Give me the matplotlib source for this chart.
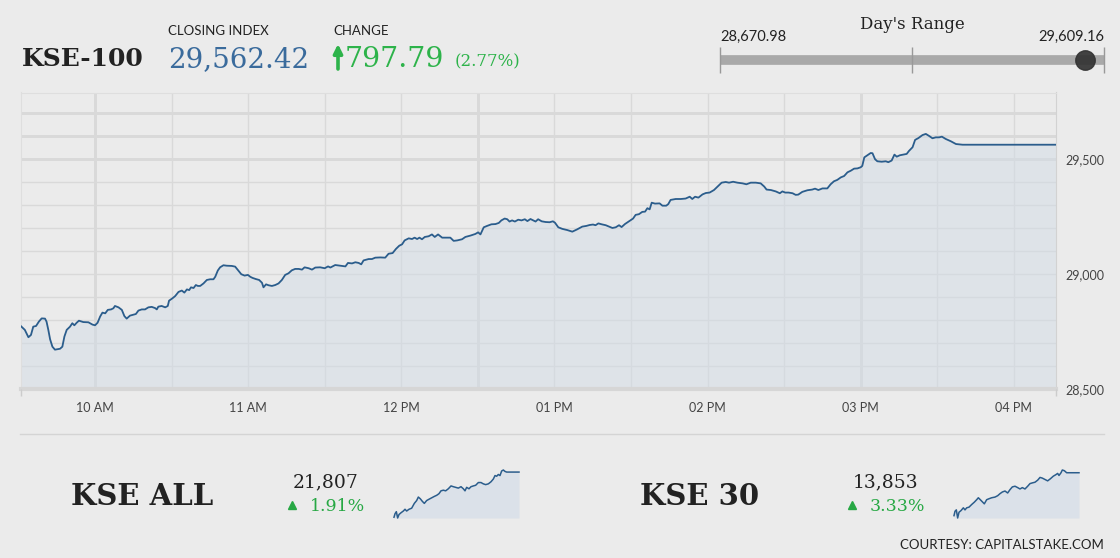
import datetime as dt
import matplotlib
matplotlib.use("Agg")
import matplotlib.pyplot as plt
import matplotlib.dates as mdates
import matplotlib.ticker as ticker

# ---- KSE-100 intraday (minutes after 09:30, index level) ----
mins_a = [0.8, 2.5, 3.9, 4.9, 5.8, 6.9, 8.0, 9.1, 10.4, 11.0, 11.7, 12.4, 13.3, 14.3, 16.3, 17.2, 18.0, 18.9,
          20.2, 21.1, 21.9, 22.8, 23.7, 25.4, 27.4, 29.0, 30.0, 31.0, 32.0, 32.9, 34.0, 35.0, 36.3, 37.2,
          37.8, 39.2, 40.5, 41.5, 42.4, 43.7, 45.0, 46.0, 47.0, 48.3, 49.6, 50.9, 52.2, 53.5, 54.2, 54.8,
          56.1, 57.5, 58.5, 59.0, 60.3, 61.4, 62.7, 64.0, 65.0, 66.0, 66.9, 67.6, 68.6, 69.5, 70.3, 71.2,
          72.5, 73.8, 75.1, 76.4, 77.1, 78.1, 79.0, 80.3, 81.6, 83.6, 84.9, 86.0, 87.3, 88.6, 89.9, 90.8,
          91.7, 93.0, 94.3, 95.4, 96.0, 97.0, 98.0, 99.3]
vals_a = [28775, 28757, 28725, 28735, 28771, 28774, 28793, 28807, 28806, 28793, 28757, 28716, 28684, 28671,
          28675, 28684, 28728, 28757, 28771, 28786, 28777, 28788, 28797, 28791, 28790, 28780, 28777, 28788,
          28815, 28832, 28829, 28844, 28846, 28851, 28861, 28855, 28844, 28817, 28806, 28819, 28823, 28826,
          28841, 28846, 28846, 28855, 28857, 28852, 28846, 28858, 28861, 28855, 28861, 28884, 28894, 28904,
          28922, 28928, 28919, 28933, 28930, 28942, 28939, 28952, 28948, 28948, 28959, 28974, 28977, 28977,
          28988, 29015, 29029, 29038, 29036, 29035, 29032, 29017, 28999, 28993, 28996, 28988, 28983, 28978,
          28974, 28962, 28942, 28955, 28951, 28948]
mins_b = [100.6, 101.9, 103.2, 104.5, 105.8, 107.1, 108.4, 109.8, 111.1, 112.1, 113.7, 115.0, 116.3, 118.2,
          120.0, 121.3, 122.2, 124.1, 126.1, 128.1, 129.1, 130.7, 132.0, 133.3, 134.3, 135.2, 137.2, 138.5,
          139.8, 141.8, 143.7, 145.0, 146.6, 147.9, 149.2, 150.3, 151.3, 152.9, 154.2, 155.2, 156.2, 157.1,
          158.1, 159.2, 160.7, 162.0, 163.1, 164.4, 166.0, 167.9, 169.2, 170.5, 171.9, 173.8, 175.1, 177.1,
          179.0, 180.1, 181.0, 182.3, 183.6, 185.3, 186.9, 188.2, 189.2, 190.5, 191.5, 192.4, 193.4, 194.5,
          195.8, 197.1, 198.4, 199.4, 200.6, 201.9]
vals_b = [28952, 28959, 28974, 28996, 29003, 29016, 29022, 29022, 29019, 29029, 29025, 29019, 29028, 29029,
          29025, 29033, 29028, 29039, 29036, 29033, 29048, 29046, 29051, 29048, 29042, 29059, 29065, 29065,
          29071, 29072, 29071, 29088, 29091, 29109, 29123, 29129, 29146, 29155, 29152, 29158, 29152, 29158,
          29151, 29161, 29164, 29172, 29161, 29172, 29158, 29158, 29158, 29144, 29146, 29151, 29161, 29167,
          29174, 29181, 29172, 29203, 29209, 29216, 29217, 29222, 29233, 29241, 29238, 29228, 29233, 29228,
          29236, 29233, 29238, 29230, 29239, 29232]
mins_c = [202.6, 203.6, 205.0, 206.5, 208.1, 209.4, 210.2, 211.5, 213.1, 215.0, 217.0, 218.9, 220.9, 222.5,
          223.8, 225.1, 226.1, 227.2, 228.5, 230.1, 231.4, 232.7, 234.0, 235.3, 236.3, 237.6, 239.2, 240.8,
          241.8, 243.1, 244.4, 245.5, 246.4, 247.3, 248.1, 249.4, 251.2, 252.3, 253.8, 254.6, 255.5, 257.5,
          259.5, 261.4, 263.0, 264.0, 265.1, 266.4, 268.0, 269.3, 270.8, 272.5, 274.2, 275.5, 277.1, 278.4,
          280.0, 281.7, 283.7, 285.2, 286.9, 288.9, 290.8, 292.2, 293.1, 294.8, 296.7, 298.3, 299.3, 300.4,
          301.7, 303.3]
vals_c = [29228, 29238, 29229, 29226, 29225, 29229, 29223, 29203, 29196, 29191, 29184, 29194, 29206, 29209,
          29213, 29215, 29212, 29220, 29216, 29212, 29206, 29200, 29203, 29212, 29204, 29217, 29229, 29241,
          29257, 29260, 29270, 29271, 29286, 29281, 29310, 29306, 29307, 29297, 29297, 29304, 29322, 29326,
          29326, 29328, 29336, 29326, 29336, 29332, 29346, 29352, 29354, 29365, 29383, 29397, 29400, 29397,
          29401, 29397, 29394, 29390, 29397, 29397, 29394, 29380, 29367, 29365, 29359, 29351, 29359, 29354,
          29354, 29351]
mins_d = [304.5, 305.5, 307.1, 309.1, 311.0, 312.1, 313.4, 315.0, 316.9, 318.2, 319.5, 320.8, 322.2, 323.5,
          324.8, 326.1, 327.4, 328.7, 330.0, 330.6, 331.4, 332.6, 333.9, 334.6, 335.6, 336.5, 338.2, 339.8,
          340.8, 342.1, 343.2, 344.1, 345.3, 346.6, 348.0, 348.9, 350.3, 351.3, 352.6, 354.2, 355.5, 356.8,
          358.1, 359.4, 360.7, 361.8, 363.3, 365.3, 367.3, 369.9, 406.5]
vals_d = [29344, 29345, 29357, 29364, 29367, 29371, 29365, 29372, 29372, 29390, 29403, 29409, 29420, 29426,
          29442, 29449, 29458, 29459, 29464, 29470, 29507, 29516, 29526, 29525, 29499, 29490, 29488, 29490,
          29486, 29493, 29519, 29510, 29516, 29519, 29522, 29535, 29551, 29583, 29591, 29604, 29609, 29600,
          29590, 29594, 29594, 29597, 29587, 29577, 29565, 29562, 29562]

# ---- sparklines ----
all_mins = [0, 3.3, 7.6, 11.9, 16.3, 22.8, 30.4, 35.8, 41.2, 48.8, 57.5, 66.1, 73.7, 79.1, 85.6, 92.1, 98.6,
            106.2, 113.8, 122.5, 131.2, 138.8, 146.3, 152.8, 160.4, 168.0, 176.7, 185.4, 193.0, 200.5, 209.2,
            217.9, 225.5, 230.9, 236.3, 243.9, 250.4, 258.0, 265.6, 274.3, 282.9, 290.5, 298.1, 306.8, 315.4,
            323.0, 328.5, 333.9, 339.3, 344.7, 350.1, 355.6, 361.0, 366.4, 406.5]
all_vals = [21393, 21425, 21444, 21386, 21418, 21434, 21450, 21466, 21450, 21466, 21476, 21520, 21546, 21578,
            21562, 21539, 21520, 21546, 21558, 21571, 21584, 21594, 21609, 21635, 21641, 21635, 21654, 21680,
            21673, 21667, 21660, 21673, 21654, 21635, 21667, 21654, 21673, 21680, 21686, 21711, 21711, 21699,
            21692, 21699, 21718, 21743, 21775, 21769, 21785, 21775, 21817, 21826, 21813, 21807, 21807]
k30_mins = [0, 3.3, 7.6, 11.9, 16.3, 22.8, 30.4, 35.8, 41.2, 48.8, 57.5, 66.1, 73.7, 79.1, 85.6, 92.1, 98.6,
            106.2, 113.8, 122.5, 133.3, 142.0, 149.6, 157.2, 165.9, 174.5, 182.1, 189.7, 198.4, 207.0, 214.6,
            222.2, 230.9, 239.6, 247.2, 254.7, 263.4, 272.1, 279.7, 287.3, 295.9, 304.6, 313.3, 323.0, 330.6,
            337.1, 341.5, 348.0, 352.3, 358.8, 366.4, 406.5]
k30_vals = [13414, 13459, 13473, 13390, 13449, 13466, 13494, 13473, 13494, 13501, 13528, 13552, 13577, 13597,
            13577, 13556, 13535, 13577, 13587, 13597, 13604, 13618, 13639, 13656, 13666, 13646, 13680, 13708,
            13715, 13701, 13687, 13701, 13687, 13715, 13742, 13749, 13756, 13777, 13805, 13798, 13784, 13770,
            13791, 13818, 13832, 13846, 13825, 13853, 13881, 13874, 13853, 13853]

closing = 29562.42
change = 797.79
day_low, day_high = 28670.98, 29609.16
y_ticks = [28500, 29000, 29500]
sub_names = ["KSE ALL", "KSE 30"]
sub_last = [21807, 13853]
sub_pct = [1.91, 3.33]

BG = "#ebebeb"
LINE = "#2b5d8c"
GREEN = "#2db34a"
SERIF = "DejaVu Serif"
SANS = "Lato"

W, H = 1120, 558
def box(x0, y0, x1, y1):
    return [x0 / W, 1 - y1 / H, (x1 - x0) / W, (y1 - y0) / H]

fig = plt.figure(figsize=(11.2, 5.58), dpi=100)
fig.patch.set_facecolor(BG)

# ---- main chart ----
base = dt.datetime(2020, 1, 1, 9, 30)
minutes = mins_a + mins_b + mins_c + mins_d
values = vals_a + vals_b + vals_c + vals_d
times = [base + dt.timedelta(minutes=m) for m in minutes]

ax = fig.add_axes(box(20.5, 92.5, 1056, 389))
ax.set_facecolor(BG)
ax.fill_between(times, values, 28500, color="#d3dce6", alpha=0.5, lw=0, zorder=2)
ax.plot(times, values, color=LINE, lw=1.3, zorder=3)
ax.set_xlim(times[0], times[-1])
ax.set_ylim(28500, 29789)

ax.xaxis.set_major_locator(mdates.HourLocator())
ax.xaxis.set_minor_locator(mdates.MinuteLocator(byminute=[30]))
ax.xaxis.set_major_formatter(mdates.DateFormatter("%I %p"))
ax.yaxis.tick_right()
ax.set_yticks(y_ticks)
ax.yaxis.set_minor_locator(ticker.MultipleLocator(100))
ax.yaxis.set_major_formatter(ticker.FuncFormatter(lambda v, p: f"{v:,.0f}"))
ax.grid(which="both", color="#d9d9d9", lw=1, zorder=0)
for v in [29500, 29600, 29700]:
    ax.axhline(v, color="#d9d9d9", lw=2, zorder=0)
for t in ["10:00", "12:30", "15:00"]:
    h, m = map(int, t.split(":"))
    ax.axvline(base.replace(hour=h, minute=m), color="#d9d9d9", lw=2, zorder=0)
ax.tick_params(which="both", length=0)
ax.tick_params(axis="x", pad=9, labelsize=9, labelcolor="#444444")
ax.tick_params(axis="y", pad=7, labelsize=9, labelcolor="#444444")
for lab in ax.get_xticklabels() + ax.get_yticklabels():
    lab.set_family(SANS)
for s in ["left", "top"]:
    ax.spines[s].set_color("#dedede")
ax.spines["right"].set_color("#d2d2d2")
ax.spines["bottom"].set_color("#d6d6d6")
ax.spines["bottom"].set_linewidth(3)

# ---- sparklines ----
for (x0, x1), m, v in [((394, 519), all_mins, all_vals), ((954, 1079), k30_mins, k30_vals)]:
    sx = fig.add_axes(box(x0, 470, x1, 518))
    sx.fill_between(m, v, min(v), color="#dbe1e9", lw=0)
    sx.plot(m, v, color=LINE, lw=1.1, clip_on=False)
    sx.set_xlim(0, m[-1])
    sx.set_ylim(min(v), max(v))
    sx.axis("off")

# ---- header / labels overlay (pixel coordinates) ----
ov = fig.add_axes([0, 0, 1, 1], facecolor="none")
ov.set_xlim(0, W)
ov.set_ylim(H, 0)
ov.axis("off")

ov.text(22, 66, "KSE-100", family=SERIF, weight="bold", size=18, color="#222222")
ov.text(168, 35, "CLOSING INDEX", family=SANS, size=9.5, color="#222222")
ov.text(168, 67, f"{closing:,.2f}", family=SERIF, size=20, color="#3a6b9c")
ov.text(333, 35, "CHANGE", family=SANS, size=9.5, color="#222222")
# up arrow drawn as a shape
ov.annotate("", xy=(338, 44), xytext=(338, 69),
            arrowprops=dict(arrowstyle="-|>", color=GREEN, lw=2.6, mutation_scale=13,
                            shrinkA=0, shrinkB=0))
ov.text(345, 67, f"{change:,.2f}", family=SERIF, size=20.5, color=GREEN)
pct = change / (closing - change) * 100
ov.text(455, 66, f"({pct:.2f}%)", family=SERIF, size=12, color=GREEN)

ov.text(912, 29, "Day's Range", family=SERIF, size=12, color="#222222", ha="center")
ov.text(720, 41, f"{day_low:,.2f}", family=SANS, size=10.5, color="#222222")
ov.text(1104, 41, f"{day_high:,.2f}", family=SANS, size=10.5, color="#222222", ha="right")
ov.plot([720, 1104], [60, 60], lw=7, color="#a9a9a9", solid_capstyle="butt")
ov.vlines([720, 912, 1104], 47, 73, color="#999999", lw=1)
dot_x = 720 + (closing - day_low) / (day_high - day_low) * 384
ov.plot(dot_x, 60, "o", ms=14, color="#333333", alpha=0.92)

ov.plot([20, 1104], [434, 434], color="#d4d4d4", lw=1)
ov.vlines([20.5, 1056], 389, 396, color="#cccccc", lw=1)

for i, (nx, cx) in enumerate([(71, 326), (640, 886)]):
    ov.text(nx, 505, sub_names[i], family=SERIF, weight="bold", size=21, color="#222222")
    ov.text(cx, 487, f"{sub_last[i]:,}", family=SERIF, size=13.5, color="#222222", ha="center")
    ov.plot(cx - 34, 505, "^", ms=6, color="#27a844")
    ov.text(cx - 16, 511, f"{sub_pct[i]:.2f}%", family=SERIF, size=12.5, color="#27a844")

ov.text(1104, 549, "COURTESY: CAPITALSTAKE.COM", family=SANS, size=9.5, color="#222222", ha="right")

fig.savefig("out.png", dpi=100, facecolor=BG)
